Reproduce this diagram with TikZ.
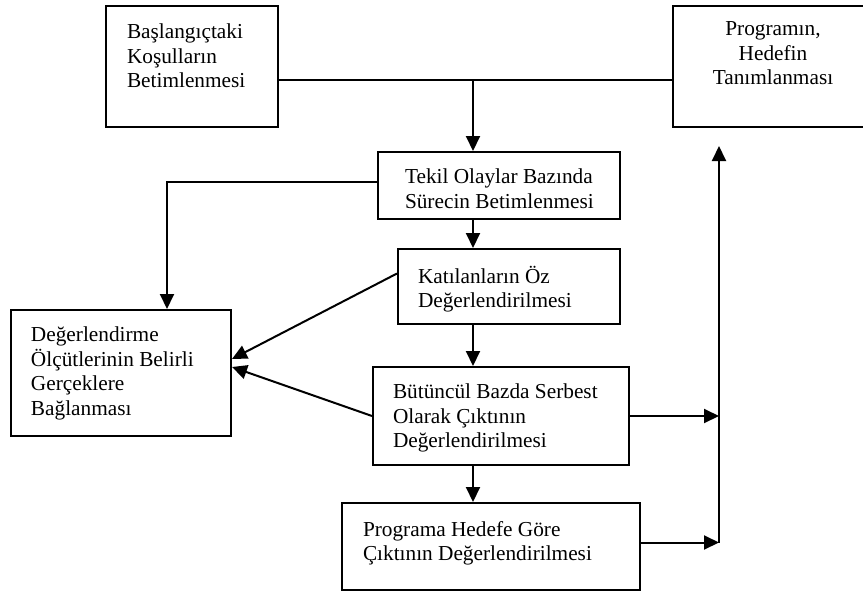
\documentclass[tikz,border=0pt]{standalone}
\usepackage{fontspec}
\setmainfont{Liberation Serif}
\usetikzlibrary{arrows.meta}
\newcommand{\icerik}[5]{\parbox[c][#2pt][t]{#1pt}{\vspace*{#4pt}\raggedright\leftskip=#3pt\relax #5}}
\tikzset{
	kutu/.style={draw, line width=2pt, inner sep=0pt, anchor=north west, font=\fontsize{21.3}{24.5}\selectfont},
	ok/.style={line width=2pt, -{Triangle[length=15pt,width=14pt]}}
}
\begin{document}
\begin{tikzpicture}[x=1pt,y=-1pt]
	\useasboundingbox (0,0) rectangle (863,592);
	\node[kutu] (b1) at (105,5) {\icerik{172}{121}{21}{18}{Başlangıçtaki\\ Koşulların\\ Betimlenmesi}};
	\node[kutu] (b2) at (672,5) {\icerik{200}{121}{0}{16}{\centering Programın,\\ Hedefin\\ Tanımlanması}};
	\node[kutu] (tekil) at (377,151) {\icerik{242}{67}{27}{17}{Tekil Olaylar Bazında\\ Sürecin Betimlenmesi}};
	\node[kutu] (katil) at (397,248) {\icerik{222}{75}{20}{17}{Katılanların Öz\\ Değerlendirilmesi}};
	\node[kutu] (deger) at (10,309) {\icerik{220}{126}{20}{17}{Değerlendirme\\ Ölçütlerinin Belirli\\ Gerçeklere\\ Bağlanması}};
	\node[kutu] (bz) at (372,366) {\icerik{256}{98}{20}{17}{Bütüncül Bazda Serbest\\ Olarak Çıktının\\ Değerlendirilmesi}};
	\node[kutu] (pr) at (341,502) {\icerik{298}{87}{21}{18}{Programa Hedefe Göre\\ Çıktının Değerlendirilmesi}};
	\coordinate (birlesim) at (473,80);
	\coordinate (kose) at (167,182);
	\coordinate (ust) at (719,146);
	% ana akis
	\draw[line width=2pt] (b1.east |- birlesim) -- (b2.west |- birlesim);
	\draw[ok] (birlesim) -- (birlesim |- tekil.north);
	\draw[ok] (birlesim |- tekil.south) -- (birlesim |- katil.north);
	\draw[ok] (birlesim |- katil.south) -- (birlesim |- bz.north);
	\draw[ok] (birlesim |- bz.south) -- (birlesim |- pr.north);
	% sol taraf
	\draw[ok] (tekil.west |- kose) -- (kose) -- (kose |- deger.north);
	\draw[ok] ([yshift=13]katil.west) -- ([yshift=14]deger.east);
	\draw[ok] (bz.west) -- ([yshift=6]deger.east);
	% sag taraf
	\draw[ok] (bz.east) -- (bz.east -| ust);
	\draw[ok] ([yshift=4]pr.east) -- ([yshift=4]pr.east -| ust);
	\draw[ok] ([yshift=4]pr.east -| ust) -- (ust);
\end{tikzpicture}
\end{document}
